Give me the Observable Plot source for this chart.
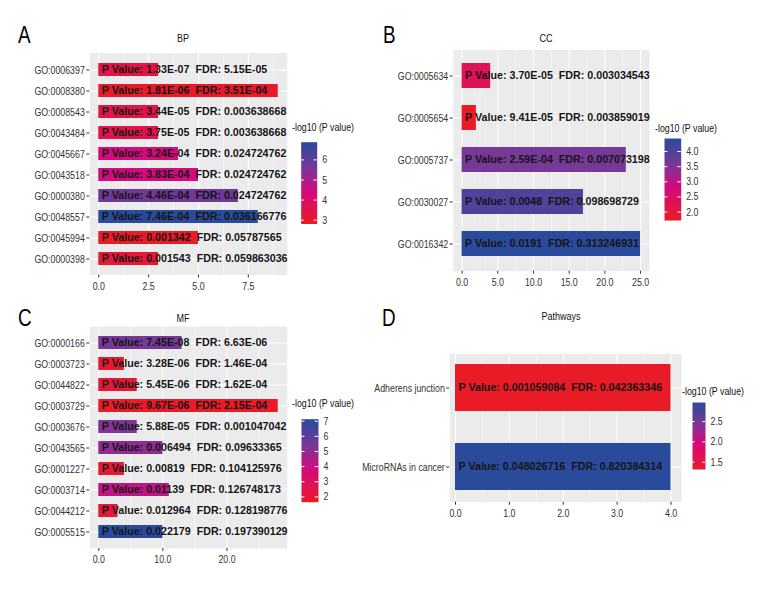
<!DOCTYPE html>
<html>
<head>
<meta charset="utf-8">
<script src="https://cdn.jsdelivr.net/npm/d3@7"></script>
<script src="https://cdn.jsdelivr.net/npm/@observablehq/plot@0.6"></script>
<style>
  body { margin: 0; background: #fff; }
  #root { position: relative; width: 780px; height: 600px; overflow: hidden; background: #fff;
          font-family: "Liberation Sans", Arial, sans-serif; }
  #root > svg { position: absolute; left: 0; top: 0; }
  .t { position: absolute; line-height: 1; white-space: nowrap; color: #000; transform-origin: 0 0; }
  .letter { font-size: 23px; transform: scaleX(0.82); }
  .title { font-size: 11px; transform: scaleX(0.82) translateX(-50%); color: #111; }
  .ltitle { font-size: 11px; transform: scaleX(0.8); color: #111; }
  text { white-space: pre; }
</style>
</head>
<body>
<div id="root">
  <div class="t letter" style="left:18px;top:23.8px">A</div>
  <div class="t letter" style="left:382.5px;top:23.8px">B</div>
  <div class="t letter" style="left:18px;top:306.5px">C</div>
  <div class="t letter" style="left:381.5px;top:306.5px">D</div>
  <div class="t title" style="left:182.7px;top:32.7px">BP</div>
  <div class="t title" style="left:545.7px;top:32.7px">CC</div>
  <div class="t title" style="left:183px;top:312.7px">MF</div>
  <div class="t title" style="left:560.7px;top:311.2px">Pathways</div>
  <div class="t ltitle" style="left:292.3px;top:121.6px">-log10 (P value)</div>
  <div class="t ltitle" style="left:655px;top:122.6px">-log10 (P value)</div>
  <div class="t ltitle" style="left:291.7px;top:398.3px">-log10 (P value)</div>
  <div class="t ltitle" style="left:681.7px;top:386px">-log10 (P value)</div>
</div>
<script>
// ---------------- data ----------------
const bpTerms = ["GO:0006397","GO:0008380","GO:0008543","GO:0043484","GO:0045667","GO:0043518","GO:0000380","GO:0048557","GO:0045994","GO:0000398"];
const bpCounts = [3, 9, 3, 3, 4, 5, 7, 8, 5, 3];
const bpPValues = ["1.33E-07","1.81E-06","3.44E-05","3.75E-05","3.24E-04","3.83E-04","4.46E-04","7.46E-04","0.001342","0.001543"];
const bpFDR = ["5.15E-05","3.51E-04","0.003638668","0.003638668","0.024724762","0.024724762","0.024724762","0.036166776","0.05787565","0.059863036"];
const bpColorValue = [3.35, 2.87, 3.42, 3.49, 4.43, 4.46, 5.74, 6.88, 2.81, 3.13];
const bpTicks = [0, 2.5, 5, 7.5];
const bpMinor = [1.25, 3.75, 6.25, 8.75];
const bpLegendTicks = [3, 4, 5, 6];

const ccTerms = ["GO:0005634","GO:0005654","GO:0005737","GO:0030027","GO:0016342"];
const ccCounts = [4, 2, 23, 17, 25];
const ccPValues = ["3.70E-05","9.41E-05","2.59E-04","0.0048","0.0191"];
const ccFDR = ["0.003034543","0.003859019","0.007073198","0.098698729","0.313246931"];
const ccColorValue = [2.32, 1.72, 3.59, 4.03, 4.43];
const ccTicks = [0, 5, 10, 15, 20, 25];
const ccMinor = [2.5, 7.5, 12.5, 17.5, 22.5];
const ccLegendTicks = [2.0, 2.5, 3.0, 3.5, 4.0];

const mfTerms = ["GO:0000166","GO:0003723","GO:0044822","GO:0003729","GO:0003676","GO:0043565","GO:0001227","GO:0003714","GO:0044212","GO:0005515"];
const mfCounts = [13, 4, 6, 28, 6, 10, 4, 11, 3, 10];
const mfPValues = ["7.45E-08","3.28E-06","5.45E-06","9.67E-06","5.88E-05","0.006494","0.00819","0.01139","0.012964","0.022179"];
const mfFDR = ["6.63E-06","1.46E-04","1.62E-04","2.15E-04","0.001047042","0.09633365","0.104125976","0.126748173","0.128198776","0.197390129"];
const mfColorValue = [5.48, 1.89, 2.09, 1.65, 5.26, 5.01, 1.94, 4.23, 2.19, 7.13];
const mfTicks = [0, 10, 20];
const mfMinor = [5, 15, 25];
const mfLegendTicks = [2, 3, 4, 5, 6, 7];

const pwTerms = ["Adherens junction","MicroRNAs in cancer"];
const pwCounts = [4, 4];
const pwPValues = ["0.001059084","0.048026716"];
const pwFDR = ["0.042363346","0.820384314"];
const pwColorValue = [1.32, 2.97];
const pwTicks = [0, 1, 2, 3, 4];
const pwMinor = [0.5, 1.5, 2.5, 3.5];
const pwLegendTicks = [1.5, 2.0, 2.5];

// ---------------- drawing ----------------
const W = 780, H = 600;
const SANS = '"Liberation Sans", Arial, sans-serif';
const root = document.getElementById("root");
const svgStyle = {background: "transparent", overflow: "visible", fontFamily: SANS, fontSize: "11px"};

// emulate a narrow (condensed) face for axis texts; svg must be in the DOM
function narrow(svg) {
  svg.querySelectorAll('g[aria-label$="tick label"] text').forEach(t => {
    const L = t.getComputedTextLength();
    if (L > 0) {
      t.setAttribute("textLength", (L * 0.8).toFixed(2));
      t.setAttribute("lengthAdjust", "spacingAndGlyphs");
    }
  });
}

function colorScale(cv) {
  const lo = d3.min(cv), hi = d3.max(cv);
  const stops = [0, 0.4, 0.68, 1];
  return {type: "linear", domain: stops.map(t => lo + t * (hi - lo)),
          range: ["#e91b27", "#d40a7d", "#7a3797", "#2a4b9c"], interpolate: "rgb"};
}

function barPanel(o) {
  const data = o.terms.map((t, i) => ({term: t, n: o.counts[i], c: o.cv[i],
    label: `P Value: ${o.pv[i]}\u00a0\u00a0FDR: ${o.fdr[i]}`}));
  const [x0, x1, y0, y1] = o.frame;
  const svg = Plot.plot({
    width: W, height: H,
    marginLeft: x0, marginRight: W - x1, marginTop: y0, marginBottom: H - y1,
    style: svgStyle,
    x: {domain: o.xDomain},
    y: {domain: o.terms, paddingInner: 0.4, paddingOuter: o.po},
    color: colorScale(o.cv),
    marks: [
      Plot.frame({fill: "#ebebeb", stroke: null}),
      Plot.gridX({ticks: o.minor, stroke: "white", strokeOpacity: 1, strokeWidth: 0.5}),
      Plot.gridX({ticks: o.ticks, stroke: "white", strokeOpacity: 1, strokeWidth: 1}),
      Plot.gridY({stroke: "white", strokeOpacity: 1, strokeWidth: 1}),
      Plot.barX(data, {x: "n", y: "term", fill: "c"}),
      Plot.text(data, {x: 0, y: "term", text: "label", textAnchor: "start", dx: 3,
        fontWeight: "bold", fontSize: 10.7, fill: "#151515", fontFamily: SANS}),
      Plot.axisX({ticks: o.ticks, tickFormat: d => d.toFixed(1), tickSize: 3, tickPadding: 4,
        fill: "#333", stroke: "#333", label: null, fontSize: 11}),
      Plot.axisY({tickSize: 3, tickPadding: 2, fill: "#333", stroke: "#333", label: null, fontSize: 11})
    ]
  });
  root.appendChild(svg);
  narrow(svg);
}

function legendBar(o) {
  const [x0, x1, yb, yt] = o.box;
  const lo = d3.min(o.cv), hi = d3.max(o.cv);
  const svg = Plot.plot({
    width: W, height: H,
    marginLeft: x0, marginRight: W - x1, marginTop: yt, marginBottom: H - yb,
    style: svgStyle,
    x: {domain: [0, 1], axis: null},
    y: {domain: [lo, hi]},
    color: colorScale(o.cv),
    marks: [
      Plot.raster({x1: 0, x2: 1, y1: lo, y2: hi, width: 1, height: 160,
        fill: (x, y) => y, imageRendering: "auto"}),
      Plot.ruleY(o.ticks, {y: d => d, x1: 0, x2: 0.2, stroke: "white", strokeWidth: 1}),
      Plot.ruleY(o.ticks, {y: d => d, x1: 0.8, x2: 1, stroke: "white", strokeWidth: 1}),
      Plot.axisY({anchor: "right", ticks: o.ticks, tickFormat: o.fmt, tickSize: 0, tickPadding: 5,
        fill: "#333", label: null, fontSize: 11})
    ]
  });
  root.appendChild(svg);
  narrow(svg);
}

barPanel({terms: bpTerms, counts: bpCounts, pv: bpPValues, fdr: bpFDR, cv: bpColorValue,
  ticks: bpTicks, minor: bpMinor, xDomain: [-0.45, 9.45], frame: [89.3, 286.7, 52.5, 274.5], po: 0.3});
barPanel({terms: ccTerms, counts: ccCounts, pv: ccPValues, fdr: ccFDR, cv: ccColorValue,
  ticks: ccTicks, minor: ccMinor, xDomain: [-1.25, 26.25], frame: [452.7, 649, 49.4, 270.7], po: 0.3});
barPanel({terms: mfTerms, counts: mfCounts, pv: mfPValues, fdr: mfFDR, cv: mfColorValue,
  ticks: mfTicks, minor: mfMinor, xDomain: [-1.4, 29.4], frame: [89.3, 286.7, 326, 548], po: 0.3});
barPanel({terms: pwTerms, counts: pwCounts, pv: pwPValues, fdr: pwFDR, cv: pwColorValue,
  ticks: pwTicks, minor: pwMinor, xDomain: [-0.106, 4.195], frame: [449.3, 681, 353.3, 501.7], po: 0.139});

legendBar({cv: bpColorValue, ticks: bpLegendTicks, fmt: d => d.toFixed(0), box: [300.7, 316.7, 223.5, 141.7]});
legendBar({cv: ccColorValue, ticks: ccLegendTicks, fmt: d => d.toFixed(1), box: [664, 680.7, 220, 138]});
legendBar({cv: mfColorValue, ticks: mfLegendTicks, fmt: d => d.toFixed(0), box: [301, 318, 501.7, 418.7]});
legendBar({cv: pwColorValue, ticks: pwLegendTicks, fmt: d => d.toFixed(1), box: [692, 705, 469, 402]});
</script>
</body>
</html>
